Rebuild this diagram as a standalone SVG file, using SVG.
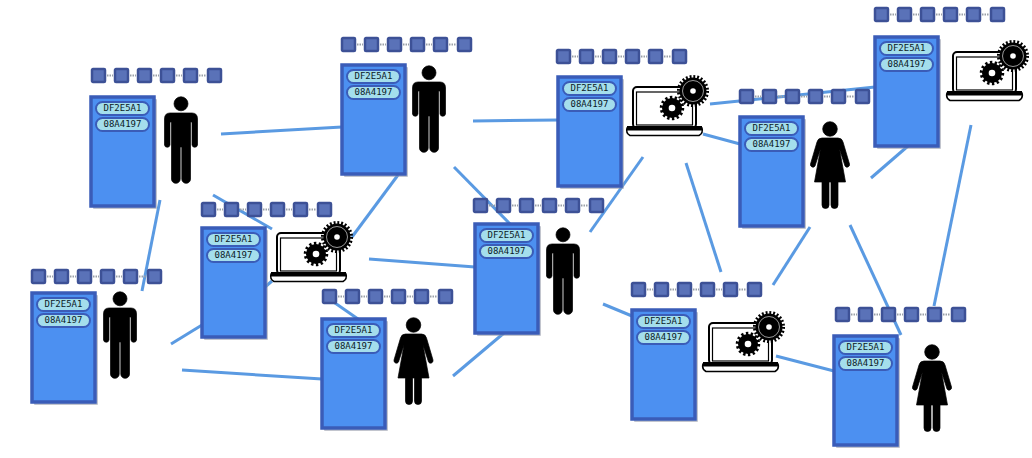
<svg xmlns="http://www.w3.org/2000/svg" width="1032" height="458" viewBox="0 0 1032 458">
<style>
.bg{fill:#fff}
.conn{stroke:#5a9ae2;stroke-width:3;fill:none;stroke-linecap:butt}
.shadow{fill:#8f96a6;opacity:.55}
.card{fill:#4c90f1;stroke:#3a5cb8;stroke-width:3.500}
.pill{fill:#a4deec;stroke:#3a5cb8;stroke-width:2}
.id{font-family:"DejaVu Sans Mono",monospace;font-size:9px;fill:#0c1a26;text-anchor:middle}
.sq{fill:#5a72b8;stroke:#3d5196;stroke-width:2.500}
.link{stroke:#9aa0a8;stroke-width:2;stroke-dasharray:1.500 1;fill:none}
.fig{stroke:#000;stroke-width:.7;stroke-linejoin:round}
</style>
<defs>
<g id="chain">
<path class="link" d="M16,7.500H22M39,7.500H45M62,7.500H68M85,7.500H91M108,7.500H115"/>
<rect class="sq" x="1" y="1" width="13" height="13" rx="1"/>
<rect class="sq" x="24" y="1" width="13" height="13" rx="1"/>
<rect class="sq" x="47" y="1" width="13" height="13" rx="1"/>
<rect class="sq" x="70" y="1" width="13" height="13" rx="1"/>
<rect class="sq" x="93" y="1" width="13" height="13" rx="1"/>
<rect class="sq" x="117" y="1" width="13" height="13" rx="1"/>
</g>
<g id="card">
<rect class="shadow" x="2" y="2" width="64" height="110" rx="1"/>
<rect class="card" x="0" y="0" width="63" height="109"/>
<rect class="pill" x="5" y="5" width="53" height="13" rx="6.500"/>
<rect class="pill" x="5" y="21" width="53" height="13" rx="6.500"/>
</g>
<g id="man" class="fig">
<circle cx="0" cy="6.800" r="7"/>
<path d="M-11,16H11Q16.500,16 16.500,22V48A2.800,2.800 0 0 1 11,48V25H9.500V82A4,4 0 0 1 .8,82V50H-.8V82A4,4 0 0 1 -9.500,82V25H-11V48A2.800,2.800 0 0 1 -16.500,48V22Q-16.500,16 -11,16Z"/>
</g>
<g id="woman" class="fig">
<circle cx="0" cy="7" r="7.300"/>
<path d="M-8,16H8Q12,16 13,20L19.500,42A2.500,2.500 0 0 1 15,44L9.500,27L15.500,60H8V83A3.500,3.500 0 0 1 1,83V60H-1V83A3.500,3.500 0 0 1 -8,83V60H-15.500L-9.500,27L-15,44A2.500,2.500 0 0 1 -19.500,42L-13,20Q-12,16 -8,16Z"/>
</g>
<g id="laptop">
<rect x="7" y="11" width="63" height="41" rx="4" fill="#fff" stroke="#000" stroke-width="2"/>
<rect x="10.500" y="16" width="56" height="33" fill="#fff" stroke="#000" stroke-width="1.200"/>
<path d="M1,52H76Q77.500,57 73,59.500H4Q-.5,57 1,52Z" fill="#fff" stroke="#000" stroke-width="1.500"/>
<rect x="1" y="50" width="75" height="4.500" fill="#000"/>
<circle cx="67" cy="15" r="14.300" fill="none" stroke="#000" stroke-width="3.500" stroke-dasharray="1.870 1.870"/>
<circle cx="67" cy="15" r="13.500" fill="#000"/>
<circle cx="67" cy="15" r="10.500" fill="none" stroke="#fff" stroke-width=".6"/>
<circle cx="67" cy="15" r="2.800" fill="#fff"/>
<circle cx="46" cy="32" r="10.500" fill="none" stroke="#000" stroke-width="3.500" stroke-dasharray="2.360 2.350"/>
<circle cx="46" cy="32" r="10" fill="#000"/>
<circle cx="46" cy="32" r="3.300" fill="#fff"/>
</g>
</defs>
<rect class="bg" width="1032" height="458"/>
<g id="connectors">
<line class="conn" x1="221" y1="134" x2="342" y2="127"/>
<line class="conn" x1="160" y1="200" x2="142" y2="291"/>
<line class="conn" x1="213" y1="195" x2="272" y2="229"/>
<line class="conn" x1="171" y1="344" x2="202" y2="325"/>
<line class="conn" x1="182" y1="370" x2="322" y2="379"/>
<line class="conn" x1="265" y1="287" x2="272" y2="281"/>
<line class="conn" x1="352" y1="237" x2="398" y2="175"/>
<line class="conn" x1="369" y1="259" x2="475" y2="267"/>
<line class="conn" x1="335" y1="303" x2="358" y2="319"/>
<line class="conn" x1="453" y1="376" x2="504" y2="333"/>
<line class="conn" x1="454" y1="167" x2="510" y2="224"/>
<line class="conn" x1="473" y1="121" x2="558" y2="120"/>
<line class="conn" x1="590" y1="232" x2="643" y2="157"/>
<line class="conn" x1="686" y1="163" x2="721" y2="272"/>
<line class="conn" x1="703" y1="134" x2="740" y2="144"/>
<line class="conn" x1="710" y1="104" x2="875" y2="87"/>
<line class="conn" x1="773" y1="285" x2="810" y2="227"/>
<line class="conn" x1="603" y1="304" x2="632" y2="316"/>
<line class="conn" x1="776" y1="356" x2="834" y2="371"/>
<line class="conn" x1="850" y1="225" x2="901" y2="335"/>
<line class="conn" x1="871" y1="178" x2="908" y2="146"/>
<line class="conn" x1="934" y1="306" x2="971" y2="125"/>
</g>
<g id="node1"><use href="#chain" x="91" y="68"/><use href="#card" x="91" y="97"/><text class="id" x="122.500" y="111">DF2E5A1</text><text class="id" x="122.500" y="127">08A4197</text><use href="#man" x="181" y="97"/></g>
<g id="node2"><use href="#chain" x="341" y="37"/><use href="#card" x="342" y="65"/><text class="id" x="373.500" y="79">DF2E5A1</text><text class="id" x="373.500" y="95">08A4197</text><use href="#man" x="429" y="66"/></g>
<g id="node3"><use href="#chain" x="556" y="49"/><use href="#card" x="558" y="77"/><text class="id" x="589.500" y="91">DF2E5A1</text><text class="id" x="589.500" y="107">08A4197</text><use href="#laptop" x="626" y="76"/></g>
<g id="node4"><use href="#chain" x="739" y="89"/><use href="#card" x="740" y="117"/><text class="id" x="771.500" y="131">DF2E5A1</text><text class="id" x="771.500" y="147">08A4197</text><use href="#woman" x="830" y="122"/></g>
<g id="node5"><use href="#chain" x="874" y="7"/><use href="#card" x="875" y="37"/><text class="id" x="906.500" y="51">DF2E5A1</text><text class="id" x="906.500" y="67">08A4197</text><use href="#laptop" x="946" y="41"/></g>
<g id="node6"><use href="#chain" x="201" y="202"/><use href="#card" x="202" y="228"/><text class="id" x="233.500" y="242">DF2E5A1</text><text class="id" x="233.500" y="258">08A4197</text><use href="#laptop" x="270" y="222"/></g>
<g id="node7"><use href="#chain" x="31" y="269"/><use href="#card" x="32" y="293"/><text class="id" x="63.500" y="307">DF2E5A1</text><text class="id" x="63.500" y="323">08A4197</text><use href="#man" x="120" y="292"/></g>
<g id="node8"><use href="#chain" x="322" y="289"/><use href="#card" x="322" y="319"/><text class="id" x="353.500" y="333">DF2E5A1</text><text class="id" x="353.500" y="349">08A4197</text><use href="#woman" x="413.500" y="318"/></g>
<g id="node9"><use href="#chain" x="473" y="198"/><use href="#card" x="475" y="224"/><text class="id" x="506.500" y="238">DF2E5A1</text><text class="id" x="506.500" y="254">08A4197</text><use href="#man" x="563" y="228"/></g>
<g id="node10"><use href="#chain" x="631" y="282"/><use href="#card" x="632" y="310"/><text class="id" x="663.500" y="324">DF2E5A1</text><text class="id" x="663.500" y="340">08A4197</text><use href="#laptop" x="702" y="312"/></g>
<g id="node11"><use href="#chain" x="835" y="307"/><use href="#card" x="834" y="336"/><text class="id" x="865.500" y="350">DF2E5A1</text><text class="id" x="865.500" y="366">08A4197</text><use href="#woman" x="932" y="345"/></g>
</svg>
